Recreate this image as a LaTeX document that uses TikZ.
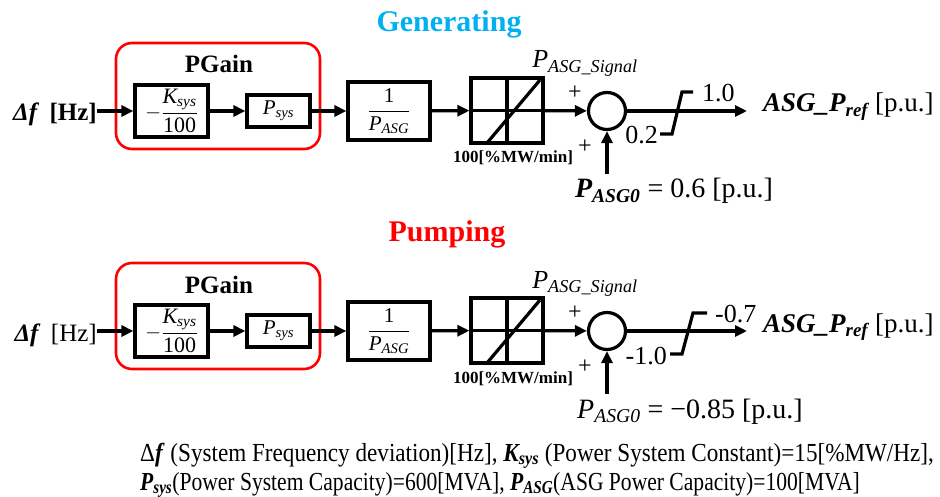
\documentclass[tikz,border=0pt]{standalone}
\usepackage{fontspec}
\usepackage{amsmath}
\setmainfont{Liberation Serif}
\newfontfamily\condfont[FakeStretch=0.89]{Liberation Serif}
\newfontfamily\condfontb[FakeStretch=0.83]{Liberation Serif}
\usetikzlibrary{arrows.meta}
\definecolor{gencyan}{RGB}{0,176,240}
\definecolor{pumpred}{RGB}{255,0,0}
\newcommand{\isb}[2]{\ensuremath{\text{\itshape #1}_{\text{\itshape #2}}}}
\newcommand{\bisb}[2]{\ensuremath{\text{\bfseries\itshape #1}_{\text{\bfseries\itshape #2}}}}
\newcommand{\fsz}[1]{\fontsize{#1}{#1}\selectfont}
\begin{document}
\begin{tikzpicture}[x=1pt,y=-1pt,
  blk/.style={draw, line width=3.2pt, inner sep=0pt, fill=white},
  con/.style={line width=3.2pt, -{Triangle[length=12pt,width=11pt]}},
  pgbox/.style={draw=pumpred, line width=2.6pt, rounded corners=16pt, inner sep=0pt},
  sat/.style={line width=3.2pt, line join=miter},
  lbl/.style={inner sep=0pt},
  sumc/.style={draw, circle, line width=3.2pt, minimum size=37pt, inner sep=0pt, fill=white}
]
\useasboundingbox (0,0) rectangle (940,497);

% ---------- titles
\node[lbl, anchor=base, font=\bfseries\fsz{30}, text=gencyan] (tgen) at (449,32) {Generating};
\node[lbl, anchor=base, font=\bfseries\fsz{30}, text=pumpred] (tpump) at (447,242) {Pumping};

% ---------- generating row
\node[pgbox, minimum width=204pt, minimum height=106pt] (pg1) at (218,96) {};
\node[lbl, anchor=base, font=\bfseries\fsz{25}] (pgl1) at (219,73) {PGain};
\node[lbl, anchor=base east, font=\fsz{25}] (in1) at (97,121) {\textbf{\textit{Δf}}\, \textbf{[Hz]}};
\node[blk, minimum width=73pt, minimum height=52pt, font=\fsz{22}] (b1a) at (171.5,111) {$-\dfrac{\isb{K}{sys}}{\text{100}}$};
\node[blk, minimum width=63pt, minimum height=32pt, font=\fsz{21}] (b2a) at (278.5,111) {\isb{P}{sys}};
\node[blk, minimum width=82pt, minimum height=58pt, font=\fsz{21}] (b3a) at (389,111) {$\dfrac{\text{1}}{\isb{P}{ASG}}$};
\node[blk, minimum width=72pt, minimum height=65pt] (rla) at (507,110.5) {};
\draw[line width=3.2pt] (rla.north) -- (rla.south) (rla.west) -- (rla.east);
\draw[line width=3.2pt] (487,143) -- (540,80);
\node[sumc] (s1) at (607,111) {};
\coordinate (o1) at (747,111);
\coordinate (a1) at (607,174);
\draw[con] (in1.east |- b1a) -- (b1a);
\draw[con] (b1a) -- (b2a);
\draw[con] (b2a) -- (b3a);
\draw[con] (b3a) -- (rla);
\draw[con] (rla) -- (s1);
\draw[con] (s1) -- (o1);
\draw[con] (a1) -- (s1);
\draw[sat] (660,134) -- (672,134) -- (682,92) -- (693,92);
\node[lbl, anchor=base, font=\fsz{26}] (sig1) at (585,68) {\isb{P}{ASG\_Signal}};
\node[lbl, font=\fsz{24}] (p1a) at (575,93) {+};
\node[lbl, font=\fsz{24}] (p1b) at (585,147) {+};
\node[lbl, anchor=base, font=\bfseries\fsz{17}] (rt1) at (513,163) {100[\%MW/min]};
\node[lbl, anchor=base east, font=\fsz{26}] (lo1) at (658,144) {0.2};
\node[lbl, anchor=base west, font=\fsz{26}] (hi1) at (702,102) {1.0};
\node[lbl, anchor=base west, font=\fsz{27}] (out1) at (763,112) {\bisb{ASG\_P}{ref} [p.u.]};
\node[lbl, anchor=base, font=\fsz{28}] (pz1) at (674,198) {\bisb{P}{ASG0} = 0.6 [p.u.]};

% ---------- pumping row
\begin{scope}[shift={(0,220)}]
\node[pgbox, minimum width=204pt, minimum height=106pt] (pg2) at (218,96) {};
\node[lbl, anchor=base, font=\bfseries\fsz{25}] (pgl2) at (219,73) {PGain};
\node[lbl, anchor=base east, font=\fsz{25}] (in2) at (97,121) {\textbf{\textit{Δf}}\, [Hz]};
\node[blk, minimum width=73pt, minimum height=52pt, font=\fsz{22}] (b1b) at (171.5,111) {$-\dfrac{\isb{K}{sys}}{\text{100}}$};
\node[blk, minimum width=63pt, minimum height=32pt, font=\fsz{21}] (b2b) at (278.5,111) {\isb{P}{sys}};
\node[blk, minimum width=82pt, minimum height=58pt, font=\fsz{21}] (b3b) at (389,111) {$\dfrac{\text{1}}{\isb{P}{ASG}}$};
\node[blk, minimum width=72pt, minimum height=65pt] (rlb) at (507,110.5) {};
\draw[line width=3.2pt] (rlb.north) -- (rlb.south) (rlb.west) -- (rlb.east);
\draw[line width=3.2pt] (487,143) -- (540,80);
\node[sumc] (s2) at (607,111) {};
\coordinate (o2) at (747,111);
\coordinate (a2) at (607,174);
\draw[con] (in2.east |- b1b) -- (b1b);
\draw[con] (b1b) -- (b2b);
\draw[con] (b2b) -- (b3b);
\draw[con] (b3b) -- (rlb);
\draw[con] (rlb) -- (s2);
\draw[con] (s2) -- (o2);
\draw[con] (a2) -- (s2);
\draw[sat] (670,134) -- (682,134) -- (693,93) -- (707,93);
\node[lbl, anchor=base, font=\fsz{26}] (sig2) at (585,68) {\isb{P}{ASG\_Signal}};
\node[lbl, font=\fsz{24}] (p2a) at (575,93) {+};
\node[lbl, font=\fsz{24}] (p2b) at (585,147) {+};
\node[lbl, anchor=base, font=\bfseries\fsz{17}] (rt2) at (513,163) {100[\%MW/min]};
\node[lbl, anchor=base east, font=\fsz{26}] (lo2) at (667,144) {-1.0};
\node[lbl, anchor=base west, font=\fsz{26}] (hi2) at (715,102) {-0.7};
\node[lbl, anchor=base west, font=\fsz{27}] (out2) at (763,112) {\bisb{ASG\_P}{ref} [p.u.]};
\node[lbl, anchor=base, font=\fsz{28}] (pz2) at (690,198) {\isb{P}{ASG0} = \textminus0.85 [p.u.]};
\end{scope}

% ---------- footer
\node[lbl, anchor=base west, font=\condfont\fsz{26}] (ft1) at (140,461) {Δ\textbf{\textit{f}} (System Frequency deviation)[Hz], \bisb{K}{sys} (Power System Constant)=15[\%MW/Hz],};
\node[lbl, anchor=base west, font=\condfontb\fsz{26}] (ft2) at (140,490) {\bisb{P}{sys}(Power System Capacity)=600[MVA], \bisb{P}{ASG}(ASG Power Capacity)=100[MVA]};
\end{tikzpicture}
\end{document}
